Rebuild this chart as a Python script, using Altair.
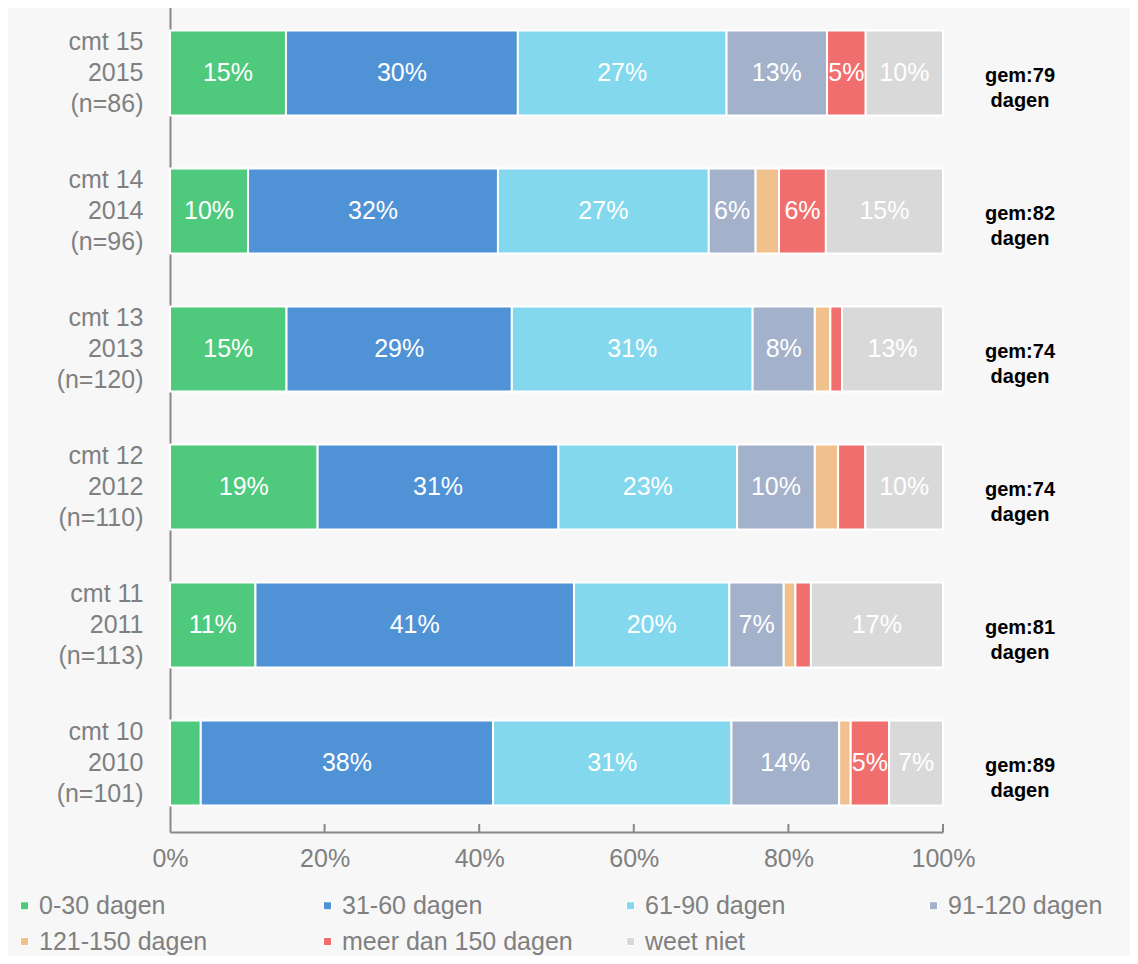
import altair as alt
import pandas as pd

rows = ["cmt 15|2015|(n=86)", "cmt 14|2014|(n=96)", "cmt 13|2013|(n=120)",
        "cmt 12|2012|(n=110)", "cmt 11|2011|(n=113)", "cmt 10|2010|(n=101)"]
series = ["0-30 dagen", "31-60 dagen", "61-90 dagen", "91-120 dagen",
          "121-150 dagen", "meer dan 150 dagen", "weet niet"]
colors = ["#4fc97b", "#4f92d6", "#84d8ed", "#a3b1ca", "#f0c08d", "#f06f6e", "#d9d9d9"]

v_0_30 = [15, 10, 15, 19, 11, 4]
v_31_60 = [30, 32, 29, 31, 41, 38]
v_61_90 = [27, 27, 31, 23, 20, 31]
v_91_120 = [13, 6, 8, 10, 7, 14]
v_121_150 = [0, 3, 2, 3, 1.5, 1.5]
v_150plus = [5, 6, 1.5, 3.5, 2, 5]
v_weet_niet = [10, 15, 13, 10, 17, 7]
gem = [79, 82, 74, 74, 81, 89]
x_ticks = [0.2, 0.4, 0.6, 0.8, 1.0]

all_vals = [v_0_30, v_31_60, v_61_90, v_91_120, v_121_150, v_150plus, v_weet_niet]
recs = []
for si, (s, vals) in enumerate(zip(series, all_vals)):
    for r, v in zip(rows, vals):
        recs.append({"row": r, "series": s, "order": si, "value": v,
                     "label": f"{int(round(v))}%" if v >= 5 else ""})
df = pd.DataFrame(recs)
df_gem = pd.DataFrame({"row": rows, "g": [f"gem:{g}\ndagen" for g in gem]})
df_ticks = pd.DataFrame({"t": x_ticks})

FONT = "Liberation Sans"
GREY = "#888888"

base = alt.Chart(df).transform_stack(
    stack="value", groupby=["row"], sort=[alt.SortField("order")],
    as_=["x0", "x1"], offset="normalize"
).transform_calculate(xc="(datum.x0 + datum.x1) / 2")

xscale = alt.Scale(domain=[0, 1], nice=False, zero=True)

bars = base.mark_bar(stroke="white", strokeWidth=2, size=85).encode(
    x=alt.X("x0:Q", scale=xscale,
            axis=alt.Axis(format="%", values=[0, 0.2, 0.4, 0.6, 0.8, 1.0], grid=False,
                          ticks=False, domainColor=GREY, domainWidth=2,
                          labelFontSize=25, labelColor="#808080", labelFont=FONT,
                          labelPadding=14, title=None, labelFlush=False)),
    x2="x1:Q",
    y=alt.Y("row:N", sort=rows,
            axis=alt.Axis(ticks=False, domainColor=GREY, domainWidth=2,
                          labelFontSize=25, labelColor="#808080", labelFont=FONT,
                          labelPadding=27, labelLineHeight=31, labelOffset=-31,
                          labelExpr="split(datum.label, '|')", title=None)),
    color=alt.Color("series:N", scale=alt.Scale(domain=series, range=colors),
                    legend=alt.Legend(orient="none", legendX=-158, legendY=889,
                                      columns=4, direction="horizontal", gridAlign="all",
                                      columnPadding=45, rowPadding=10,
                                      symbolType="square", symbolSize=64,
                                      symbolStrokeColor="white", symbolStrokeWidth=1,
                                      labelFontSize=25, labelColor="#808080",
                                      labelFont=FONT, labelOffset=2, title=None,
                                      labelLimit=400)),
    order=alt.Order("order:Q"),
)

labels = base.mark_text(color="white", fontSize=25, font=FONT).encode(
    x=alt.X("xc:Q", scale=xscale),
    y=alt.Y("row:N", sort=rows),
    text="label:N",
)

ann = alt.Chart(df_gem).mark_text(fontSize=20, fontWeight="bold", font=FONT,
                                  color="black", lineBreak="\n", lineHeight=25,
                                  dx=77, dy=3, align="center").encode(
    x=alt.datum(1),
    y=alt.Y("row:N", sort=rows),
    text="g:N",
)

ticks = alt.Chart(df_ticks).mark_rule(color=GREY, strokeWidth=2).encode(
    x=alt.X("t:Q", scale=xscale),
    y=alt.value(820),
    y2=alt.value(828),
)

chart = alt.layer(bars, labels, ann, ticks).properties(
    width=773, height=828,
    autosize=alt.AutoSizeParams(type="none"),
    padding={"left": 162, "top": -4, "right": 187, "bottom": 124},
    background="#f7f7f7",
).configure_view(stroke=None)

chart.save("out.html", embed_options={"renderer": "svg", "actions": False})
